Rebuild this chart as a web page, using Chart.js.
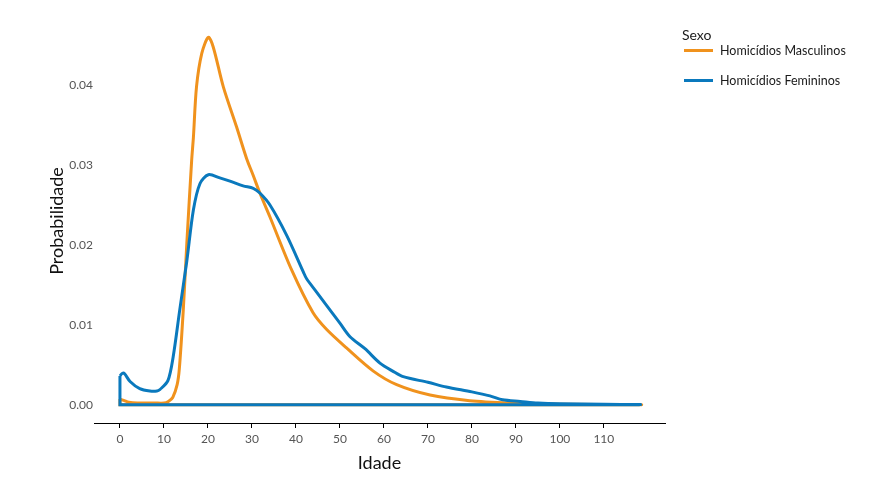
<!DOCTYPE html>
<html lang="pt">
<head>
<meta charset="utf-8">
<script src="https://cdn.jsdelivr.net/npm/chart.js@4/dist/chart.umd.min.js"></script>
<style>
  html, body { margin: 0; padding: 0; background: #fff; }
  #wrap { position: relative; width: 879px; height: 482px; }
  #legenda { position: absolute; left: 682px; top: 27px; font-family: Lato, sans-serif; color: #1a1a1a; }
  #legenda .titulo { font-size: 14px; line-height: 16px; }
  #legenda .itens { margin-top: -8px; }
  #legenda .item { display: flex; align-items: center; height: 30px; font-size: 12.5px; }
  #legenda .linha { width: 29px; height: 3px; margin-right: 7px; margin-left: 2px; }
</style>
</head>
<body>
<div id="wrap">
  <canvas id="grafico" width="879" height="482"></canvas>
  <div id="legenda"><div class="titulo">Sexo</div><div class="itens" id="itens"></div></div>
</div>
<script>
// Dados (densidade por idade)
const idadeMasc = [0, 1, 2, 4, 8, 10, 11, 12, 13, 13.5, 14.4, 15.2, 16.3, 16.7, 17.4, 18.6, 20.1, 21.2, 23.5, 26.5, 28.8, 30.3, 31.8, 34.1, 39, 43.9, 47, 51.5, 57.6, 62.9, 70.5, 79.5, 89.3, 100, 118];
const probMasc = [0.0007, 0.0005, 0.0003, 0.0002, 0.0002, 0.0002, 0.0004, 0.0009, 0.0025, 0.0045, 0.0119, 0.0202, 0.0306, 0.0335, 0.0398, 0.044, 0.046, 0.0448, 0.0398, 0.0348, 0.0308, 0.0287, 0.0265, 0.0235, 0.0169, 0.0115, 0.0094, 0.0071, 0.0042, 0.0025, 0.0012, 0.0005, 0.0002, 0.00005, 0];

const idadeFem = [0, 0.5, 1, 2.3, 4.5, 6.8, 8.4, 9.1, 10.9, 12.1, 13.6, 15.2, 16.7, 18.2, 20.1, 22.7, 25, 28, 30.3, 31.8, 34.1, 37.9, 41.7, 42.4, 44.7, 47, 50, 52.3, 55.7, 59.1, 62, 64.4, 70, 74.2, 80, 84.1, 87, 91, 95, 100, 110, 118];
const probFem = [0.0036, 0.0039, 0.0039, 0.0029, 0.002, 0.0017, 0.0017, 0.0019, 0.003, 0.006, 0.0119, 0.018, 0.0244, 0.0277, 0.0288, 0.0284, 0.028, 0.0274, 0.0271, 0.0265, 0.025, 0.0212, 0.0166, 0.0158, 0.0141, 0.0124, 0.0102, 0.0085, 0.007, 0.0052, 0.0042, 0.0035, 0.0028, 0.0022, 0.0016, 0.0011, 0.0006, 0.0004, 0.0002, 0.0001, 0.00005, 0];

const ticksIdade = [0, 10, 20, 30, 40, 50, 60, 70, 80, 90, 100, 110];
const ticksProb = [0, 0.01, 0.02, 0.03, 0.04];

const series = ['Homicídios Masculinos', 'Homicídios Femininos'];
const cores = ['#F0921D', '#0A79BD'];

// Monta o contorno fechado (curva + linha de base), como no geom_density
function contorno(xs, ys) {
  const pts = xs.map((x, i) => ({ x: x, y: ys[i] }));
  pts.push({ x: xs[0], y: 0 }, { x: xs[0], y: 0 }, { x: xs[0], y: ys[0] });
  return pts;
}

const fonte = 'Lato, sans-serif';

new Chart(document.getElementById('grafico'), {
  type: 'line',
  data: {
    datasets: [
      { label: series[0], data: contorno(idadeMasc, probMasc), borderColor: cores[0], order: 1 },
      { label: series[1], data: contorno(idadeFem, probFem), borderColor: cores[1], order: 0 }
    ]
  },
  options: {
    responsive: false,
    animation: false,
    parsing: false,
    elements: {
      line: { borderWidth: 3, tension: 0.3, fill: false },
      point: { radius: 0 }
    },
    layout: { padding: { top: 19, right: 214, left: 0, bottom: 0 } },
    plugins: { legend: { display: false }, tooltip: { enabled: false } },
    scales: {
      x: {
        type: 'linear',
        min: -5.9,
        max: 123.9,
        afterBuildTicks: s => { s.ticks = ticksIdade.map(v => ({ value: v })); },
        afterFit: s => { s.height = 59; },
        border: { display: true, color: '#000', width: 1 },
        grid: { display: true, drawOnChartArea: false, drawTicks: true, tickLength: 5, color: '#000' },
        ticks: { color: '#555', font: { family: fonte, size: 12 }, padding: 4, maxRotation: 0 },
        title: { display: true, text: 'Idade', color: '#111', font: { family: fonte, size: 18 }, padding: { top: 2, bottom: 8 } }
      },
      y: {
        type: 'linear',
        min: -0.0023,
        max: 0.0483,
        afterBuildTicks: s => { s.ticks = ticksProb.map(v => ({ value: v })); },
        afterFit: s => { s.width = 94; },
        border: { display: false },
        grid: { display: false, drawTicks: false },
        ticks: { color: '#555', font: { family: fonte, size: 12 }, padding: 1, callback: v => v.toFixed(2) },
        title: { display: true, text: 'Probabilidade', color: '#111', font: { family: fonte, size: 18 }, padding: { top: 46, bottom: 0 } }
      }
    }
  }
});

// Legenda
const itens = document.getElementById('itens');
series.forEach((nome, i) => {
  const item = document.createElement('div');
  item.className = 'item';
  const linha = document.createElement('div');
  linha.className = 'linha';
  linha.style.backgroundColor = cores[i];
  item.appendChild(linha);
  item.appendChild(document.createTextNode(nome));
  itens.appendChild(item);
});
</script>
</body>
</html>
